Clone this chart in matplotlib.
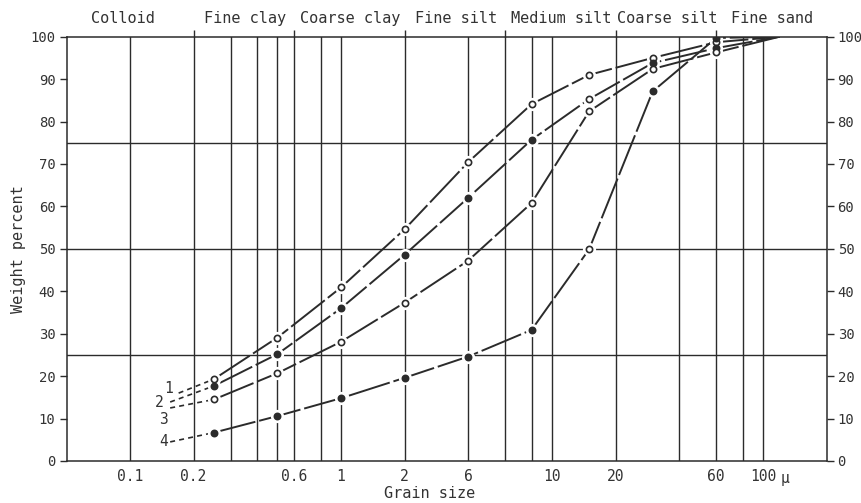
import matplotlib
matplotlib.use('Agg')
import matplotlib.pyplot as plt
from matplotlib.ticker import NullLocator
import numpy as np

plt.rcParams['font.family'] = ['DejaVu Sans Mono', 'DejaVu Sans']

# grain size (micron) at the measured points
sizes = [0.25, 0.5, 1, 2, 4, 8, 15, 30, 60]
curve1 = [19.3, 29.1, 40.9, 54.6, 70.4, 84.1, 91.0, 95.0, 98.7]
curve2 = [17.7, 25.2, 36.0, 48.6, 62.0, 75.7, 85.3, 93.8, 97.3]
curve3 = [14.5, 20.7, 28.1, 37.3, 47.2, 60.8, 82.4, 92.4, 96.3]
curve4 = [6.7, 10.6, 14.8, 19.6, 24.6, 30.9, 49.9, 87.1, 99.7]
# open (True) / filled (False) markers per point
open1 = [True] * 9
open2 = [False] * 6 + [True] + [False] * 2
open3 = [True] * 9
open4 = [False] * 6 + [True] + [False] * 2
end_size = 120
end_pct = 100
# dashed extrapolation towards finer sizes
extrap_size = [0.17, 0.155, 0.155, 0.155]
extrap_pct = [16.0, 13.9, 12.5, 4.5]
curve_names = ['1', '2', '3', '4']
name_x = [0.152, 0.137, 0.144, 0.144]
name_y = [17.0, 13.7, 9.7, 4.5]

grid_x = [0.1, 0.2, 0.3, 0.4, 0.5, 0.6, 0.8, 1, 2, 4, 6, 8, 10, 20, 40, 60, 80, 100]
grid_y = [25, 50, 75]
tick_pos = [0.1, 0.2, 0.6, 1, 2, 4, 10, 20, 60, 100]
tick_labels = ['0.1', '0.2', '0.6', '1', '2', '6', '10', '20', '60', '100']
class_bounds = [0.2, 0.6, 2, 6, 20, 60]
class_names = ['Colloid', 'Fine clay', 'Coarse clay', 'Fine silt',
               'Medium silt', 'Coarse silt', 'Fine sand']
class_x = [0.093, 0.35, 1.1, 3.5, 11, 35, 110]

ink = '#2b2b2b'
txt = '#333333'

fig = plt.figure(figsize=(8.61, 5.03), dpi=100)
ax = fig.add_axes([66.5 / 861, 42 / 503, 760 / 861, 424.3 / 503])
ax.set_xscale('log')
ax.set_xlim(0.05, 200)
ax.set_ylim(0, 100)
ax.xaxis.set_minor_locator(NullLocator())

for gx in grid_x:
    ax.axvline(gx, color=ink, lw=1.0, zorder=0.5)
for gy in grid_y:
    ax.axhline(gy, color=ink, lw=1.0, zorder=0.5)

for sp in ax.spines.values():
    sp.set_color(ink)
    sp.set_linewidth(1.1)

ax.set_xticks(tick_pos, tick_labels)
ax.tick_params(axis='x', length=0, pad=6, labelsize=10.5, labelcolor=txt)
ax.annotate('\u00b5', xy=(100, 0), xycoords='data', xytext=(13, -7),
            textcoords='offset points', ha='left', va='top', fontsize=10.5, color=txt)
ax.set_yticks(np.arange(0, 101, 10))
ax.tick_params(axis='y', direction='out', length=5, width=1, color=ink,
               labelsize=10, labelcolor=txt, right=True, labelright=True, pad=3)

ax.set_ylabel('Weight percent', fontsize=11, color=txt, labelpad=3)
ax.set_xlabel('Grain size', fontsize=11, color=txt)
ax.xaxis.set_label_coords((430 - 66.5) / 760, -0.058)

top = ax.twiny()
top.set_xscale('log')
top.set_xlim(0.05, 200)
top.xaxis.set_minor_locator(NullLocator())
top.set_xticks(class_bounds, [''] * len(class_bounds))
top.tick_params(axis='x', direction='out', length=5, width=1, color=ink)
for sp in top.spines.values():
    sp.set_visible(False)

for name, cx in zip(class_names, class_x):
    ax.text(cx, 1.044, name, transform=ax.get_xaxis_transform(),
            ha='center', va='center', fontsize=11, color=txt)

curves = [curve1, curve2, curve3, curve4]
opens = [open1, open2, open3, open4]
for i in range(4):
    xs = sizes + [end_size]
    ys = curves[i] + [end_pct]
    ax.plot(xs, ys, color=ink, lw=1.4, ls=(0, (22, 2)), zorder=2)
    ax.plot([extrap_size[i], sizes[0]], [extrap_pct[i], curves[i][0]],
            color=ink, lw=1.2, ls=(0, (3, 2.5)), zorder=2)
    # white halo to break the line round each point
    ax.plot(sizes, curves[i], 'o', ms=8.5, color='white', mec='white', zorder=2.5)
    for x, y, o in zip(sizes, curves[i], opens[i]):
        ax.plot(x, y, 'o', ms=4.5, mew=1.2, mec=ink,
                mfc='white' if o else ink, zorder=3)
    ax.text(name_x[i], name_y[i], curve_names[i], ha='center', va='center',
            fontsize=10.5, color=txt)

fig.savefig('out.png', dpi=100, facecolor='white')
